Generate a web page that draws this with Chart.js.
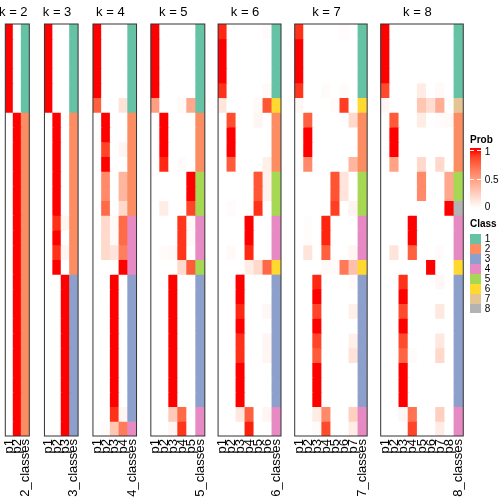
<!DOCTYPE html>
<html><head><meta charset="utf-8">
<script src="https://cdn.jsdelivr.net/npm/chart.js@4.4.1/dist/chart.umd.min.js"></script>
<style>
html,body{margin:0;padding:0;background:#fff;width:504px;height:504px;overflow:hidden;}
#wrap{position:relative;width:504px;height:504px;font-family:"Liberation Sans",Arial,Helvetica,sans-serif;}
#wrap canvas{position:absolute;top:0;}
.lg{position:absolute;font-size:10px;line-height:10px;color:#000;white-space:nowrap;}
.lgb{font-weight:bold;}
.box{position:absolute;}
</style></head><body><div id="wrap"></div>
<script>
// ---------------- data ----------------
const kValues = [2, 3, 4, 5, 6, 7, 8];
const classLabels = ['1', '2', '3', '4', '5', '6', '7', '8'];
const classColors = ['#66C2A5', '#FC8D62', '#8DA0CB', '#E78AC3', '#A6D854', '#FFD92F', '#E5C494', '#B3B3B3'];
const probTicks = [1, 0.5, 0];

const probK2 = [
  [1,0],[1,0],[1,0],[1,0],[1,0],[1,0],
  [0,1],[0,1],[0,1],[0,1],[0,1],[0,1],[0,1],[0,1],[0,1],[0,1],[0,1],
  [0,1],[0,1],[0,1],[0,1],[0,1],[0,1],[0,1],[0,1],[0,1],[0,1],[0,1]
];
const classK2 = [1,1,1,1,1,1, 2,2,2,2,2,2,2,2,2,2,2, 2,2,2,2,2,2,2,2,2,2,2];

const probK3 = [
  [1,0,0],[1,0,0],[1,0,0],[1,0,0],[1,0,0],[1,0,0],
  [0,1,0],[0,1,0],[0,1,0],[0,1,0],[0,1,0],[0,1,0],[0,1,0],
  [0,0.93,0.05],[0,1,0],[0,0.93,0.05],[0,1,0],
  [0,0,1],[0,0,1],[0,0,1],[0,0,1],[0,0,1],[0,0,1],[0,0,1],[0,0,1],[0,0,1],[0,0,1],[0,0,1]
];
const classK3 = [1,1,1,1,1,1, 2,2,2,2,2,2,2,2,2,2,2, 3,3,3,3,3,3,3,3,3,3,3];

const probK4 = [
  [1,0,0,0],[1,0,0,0],[1,0,0,0],[1,0,0,0],[1,0,0,0],
  [0.78,0,0,0.15],
  [0,1,0,0],[0,1,0,0],[0,0.88,0,0.05],[0,1,0,0],
  [0,0.6,0,0.38],[0,0.6,0,0.38],[0,0.74,0,0.2],
  [0,0.2,0.03,0.74],[0,0.2,0.03,0.74],[0,0.2,0.14,0.65],[0,0,0,1],
  [0,0,1,0],[0,0,1,0],[0,0,1,0],[0,0,1,0],[0,0,1,0],[0,0,1,0],[0,0,1,0],[0,0,1,0],[0,0,1,0],
  [0,0,0.93,0.05],
  [0,0.02,0.3,0.66]
];
const classK4 = [1,1,1,1,1,1, 2,2,2,2,2,2,2, 4,4,4,4, 3,3,3,3,3,3,3,3,3,3, 4];

const probK5 = [
  [1,0,0,0,0],[1,0,0,0,0],[1,0,0,0,0],[1,0,0,0,0],[1,0,0,0,0],
  [0.5,0,0,0.03,0.45],
  [0,1,0,0,0],[0,1,0,0,0],[0,1,0,0,0],[0,0.95,0,0.02,0],
  [0,0,0,0,1],[0,0,0,0,1],[0,0.1,0,0,0.88],
  [0,0,0,0.92,0.03],[0,0,0,0.92,0.03],[0,0.02,0.03,0.92,0],
  [0,0,0,0.2,0.8],
  [0,0,1,0,0],[0,0,1,0,0],[0,0,1,0,0],[0,0,1,0,0],[0,0,1,0,0],[0,0,1,0,0],[0,0,1,0,0],[0,0,1,0,0],[0,0,1,0,0],
  [0,0,0.28,0.74,0],[0,0,0.05,0.92,0]
];
const classK5 = [1,1,1,1,1,1, 2,2,2,2, 5,5,5, 4,4,4, 5, 3,3,3,3,3,3,3,3,3, 4,4];

const probK6 = [
  [0.95,0,0,0,0,0.02],[1,0,0,0,0,0],[1,0,0,0,0,0],[1,0,0,0,0,0],[0.93,0,0,0,0,0.03],
  [0.13,0,0,0,0.03,0.82],
  [0,0.85,0,0,0.05,0],[0,1,0,0,0,0],[0,1,0,0,0,0],[0,0.8,0,0,0,0.08],
  [0,0,0,0,0.82,0.07],[0,0,0,0,0.82,0.07],[0,0.02,0,0,0.93,0],
  [0,0,0,1,0,0],[0,0,0,1,0,0],[0,0.03,0,0.95,0,0],
  [0,0,0,0.1,0.2,0.75],
  [0,0,1,0,0,0],[0,0,1,0,0,0],[0,0,0.95,0,0,0.04],[0,0,1,0,0,0],[0,0,0.93,0,0,0.05],[0,0,0.93,0,0,0.05],[0,0,1,0,0,0],[0,0,1,0,0,0],[0,0,1,0,0,0],
  [0,0,0.12,0.78,0,0.05],[0,0,0,0.97,0,0]
];
const classK6 = [1,1,1,1,1, 6, 2,2,2,2, 5,5,5, 4,4,4, 6, 3,3,3,3,3,3,3,3,3, 4,4];

const probK7 = [
  [0.93,0,0,0,0,0.02,0],[1,0,0,0,0,0,0],[1,0,0,0,0,0,0],[1,0,0,0,0,0,0],[0.92,0,0,0.02,0,0.02,0],
  [0.04,0,0,0,0.02,0.9,0],
  [0,0.78,0,0,0,0,0.2],[0,1,0,0,0,0,0],[0,1,0,0,0,0,0],[0,0.6,0,0,0,0,0.38],
  [0,0,0,0,0.83,0.14,0],[0,0,0,0,0.83,0.14,0],[0,0,0,0,0.9,0,0.06],
  [0,0.01,0,0.96,0,0,0],[0,0.01,0,0.96,0,0,0],[0,0.14,0,0.78,0,0,0.05],
  [0,0,0,0.03,0.02,0.68,0.33],
  [0,0,0.95,0,0,0,0.02],[0,0,1,0,0,0,0],[0,0,0.88,0,0,0,0.08],[0,0,1,0,0,0,0],[0,0,0.88,0,0,0,0.08],[0,0,0.8,0,0,0,0.15],[0,0,1,0,0,0,0],[0,0,1,0,0,0,0],[0,0,1,0,0,0,0],
  [0,0,0.1,0.6,0,0,0.25],[0,0,0.02,0.86,0,0,0.1]
];
const classK7 = [1,1,1,1,1, 6, 2,2,2,2, 5,5,5, 4,4,4, 6, 3,3,3,3,3,3,3,3,3, 4,4];

const probK8 = [
  [1,0,0,0,0,0,0,0],[1,0,0,0,0,0,0,0],[1,0,0,0,0,0,0,0],[1,0,0,0,0,0,0,0],
  [0.86,0,0,0,0.1,0,0.03,0],
  [0.04,0,0,0,0.3,0.18,0.42,0],
  [0,0.8,0,0,0.1,0,0.02,0.03],[0,1,0,0,0,0,0,0],[0,1,0,0,0,0,0,0],[0,0.48,0,0,0.2,0,0.2,0],
  [0,0,0,0,0.6,0,0,0.45],[0,0,0,0,0.6,0,0,0.45],
  [0,0,0,0,0,0,0,1],
  [0,0,0,1,0,0,0,0],[0,0,0,1,0,0,0,0],[0,0.14,0,0.78,0,0,0.02,0],
  [0,0,0,0,0,1,0,0],
  [0,0,0.93,0,0,0,0.04,0],[0,0,1,0,0,0,0,0],[0,0,0.86,0,0,0,0.12,0],[0,0,1,0,0,0,0,0],[0,0,0.86,0,0,0,0.12,0],[0,0,0.76,0.02,0,0,0.2,0],[0,0,1,0,0,0,0,0],[0,0,1,0,0,0,0,0],[0,0,1,0,0,0,0,0],
  [0,0,0.04,0.7,0,0,0.25,0],[0,0,0,0.88,0,0,0.1,0]
];
const classK8 = [1,1,1,1,1, 7, 2,2,2,2, 5,5, 8, 4,4,4, 6, 3,3,3,3,3,3,3,3,3, 4,4];

const probSets = [probK2, probK3, probK4, probK5, probK6, probK7, probK8];
const classSets = [classK2, classK3, classK4, classK5, classK6, classK7, classK8];

// ---------------- colour ramp (white -> red, LAB) ----------------
function s2l(c){ c/=255; return c<=0.04045 ? c/12.92 : Math.pow((c+0.055)/1.055, 2.4); }
function l2s(c){ c = c<=0.0031308 ? 12.92*c : 1.055*Math.pow(c,1/2.4)-0.055; return Math.round(Math.max(0,Math.min(1,c))*255); }
const XN=0.95047, YN=1, ZN=1.08883, EPS=6/29;
function fLab(t){ return t > EPS*EPS*EPS ? Math.cbrt(t) : t/(3*EPS*EPS) + 4/29; }
function fInv(t){ return t > EPS ? t*t*t : 3*EPS*EPS*(t-4/29); }
function rgbToLab(r,g,b){
  const R=s2l(r), G=s2l(g), B=s2l(b);
  const X=0.4124564*R+0.3575761*G+0.1804375*B;
  const Y=0.2126729*R+0.7151522*G+0.0721750*B;
  const Z=0.0193339*R+0.1191920*G+0.9503041*B;
  const fx=fLab(X/XN), fy=fLab(Y/YN), fz=fLab(Z/ZN);
  return [116*fy-16, 500*(fx-fy), 200*(fy-fz)];
}
function labToRgb(L,a,b){
  const fy=(L+16)/116, fx=fy+a/500, fz=fy-b/200;
  const X=XN*fInv(fx), Y=YN*fInv(fy), Z=ZN*fInv(fz);
  const R= 3.2404542*X-1.5371385*Y-0.4985314*Z;
  const G=-0.9692660*X+1.8760108*Y+0.0415560*Z;
  const B= 0.0556434*X-0.2040259*Y+1.0572252*Z;
  return 'rgb('+l2s(R)+','+l2s(G)+','+l2s(B)+')';
}
const LAB0 = rgbToLab(255,255,255), LAB1 = rgbToLab(255,0,0);
function rampColor(p){
  const t = Math.max(0, Math.min(1, p));
  return labToRgb(LAB0[0]+(LAB1[0]-LAB0[0])*t, LAB0[1]+(LAB1[1]-LAB0[1])*t, LAB0[2]+(LAB1[2]-LAB0[2])*t);
}

// ---------------- layout constants ----------------
const FONT = '"Liberation Sans", Arial, Helvetica, sans-serif';
Chart.defaults.font.family = FONT;
const COL_W = 9.37, GAP = 11.03, START_X = 5.3, TOP = 24, BOTTOM = 436, H = 504, MARGIN = 12;

const panelDeco = {
  id: 'panelDeco',
  afterDatasetsDraw(chart, args, opts){
    const {ctx, chartArea:a, scales:{x}} = chart;
    ctx.save();
    ctx.strokeStyle = '#333';
    ctx.lineWidth = 1;
    ctx.strokeRect(a.left, a.top, a.right-a.left, a.bottom-a.top);
    const cx = (x.getPixelForValue(0) + x.getPixelForValue(opts.k-1)) / 2;
    ctx.fillStyle = '#000';
    ctx.font = '13px ' + FONT;
    ctx.textAlign = 'center';
    ctx.textBaseline = 'alphabetic';
    ctx.fillText(opts.title, cx, 16);
    ctx.restore();
  }
};

const wrap = document.getElementById('wrap');
let left = START_X;
kValues.forEach((k, pi) => {
  const prob = probSets[pi], cls = classSets[pi];
  const nRows = prob.length;
  const labels = [];
  for (let j = 1; j <= k; j++) labels.push('p' + j);
  labels.push(k + '_classes');
  const w = labels.length * COL_W;
  const cLeft = Math.floor(left) - MARGIN;
  const cRight = Math.ceil(left + w) + MARGIN;
  const cw = cRight - cLeft;
  const canvas = document.createElement('canvas');
  canvas.width = cw; canvas.height = H;
  canvas.style.left = cLeft + 'px';
  canvas.style.width = cw + 'px'; canvas.style.height = H + 'px';
  wrap.appendChild(canvas);
  const padL = left - cLeft, padR = cRight - (left + w);

  const datasets = prob.map((row, r) => ({
    data: labels.map(() => [r, r + 1]),
    backgroundColor: row.map(rampColor).concat([classColors[cls[r] - 1]]),
    borderWidth: 0,
    inflateAmount: 0.5,
    grouped: false,
    barPercentage: 1,
    categoryPercentage: 1
  }));

  new Chart(canvas, {
    type: 'bar',
    data: { labels, datasets },
    options: {
      responsive: false,
      animation: false,
      devicePixelRatio: 1,
      events: [],
      layout: { padding: { left: padL, right: padR, top: TOP, bottom: 0 } },
      plugins: {
        legend: { display: false },
        tooltip: { enabled: false },
        title: { display: false },
        panelDeco: { k: k, title: 'k = ' + k }
      },
      scales: {
        x: {
          type: 'category',
          offset: true,
          grid: { display: false, drawTicks: false },
          border: { display: false },
          ticks: { autoSkip: false, minRotation: 90, maxRotation: 90, padding: 3, color: '#000', font: { size: 13, family: FONT } },
          afterFit(s){ s.height = H - BOTTOM; }
        },
        y: { type: 'linear', display: false, min: 0, max: nRows, reverse: true }
      }
    },
    plugins: [panelDeco]
  });
  left += w + GAP;
});

// ---------------- legends ----------------
function addDiv(cls, txt, x, y, extra){
  const d = document.createElement('div');
  d.className = cls;
  if (txt !== null) d.textContent = txt;
  d.style.left = x + 'px'; d.style.top = y + 'px';
  if (extra) Object.assign(d.style, extra);
  wrap.appendChild(d);
  return d;
}
// Prob legend
addDiv('lg lgb', 'Prob', 470, 134.7);
const BAR_X = 469.5, BAR_W = 11.5, BAR_T = 148, BAR_B = 210, V1 = 150.7, V0 = 207.9;
const stops = [];
for (let i = 0; i <= 20; i++){
  const y = BAR_T + (BAR_B - BAR_T) * i / 20;
  const v = (V0 - y) / (V0 - V1);
  stops.push(rampColor(v) + ' ' + (i*5) + '%');
}
addDiv('box', null, BAR_X, BAR_T, { width: BAR_W+'px', height: (BAR_B-BAR_T)+'px', background: 'linear-gradient(to bottom,' + stops.join(',') + ')' });
probTicks.forEach(v => {
  const y = V0 - (V0 - V1) * v;
  if (v > 0){
    addDiv('box', null, BAR_X, y - 0.5, { width: '4px', height: '1px', background: '#fff' });
    addDiv('box', null, BAR_X + BAR_W - 4, y - 0.5, { width: '4px', height: '1px', background: '#fff' });
  }
  addDiv('lg', String(v), 484.7, y - 5 + (v === 0 ? -1 : 1));
});
// Class legend
addDiv('lg lgb', 'Class', 470, 218.7);
const BOX_T = 234.3, BOX_H = 9.9;
classLabels.forEach((lab, i) => {
  addDiv('box', null, BAR_X, BOX_T + i*BOX_H, { width: BAR_W+'px', height: BOX_H+'px', background: classColors[i] });
  addDiv('lg', lab, 484.7, BOX_T + i*BOX_H + BOX_H/2 - 5);
});
</script></body></html>
